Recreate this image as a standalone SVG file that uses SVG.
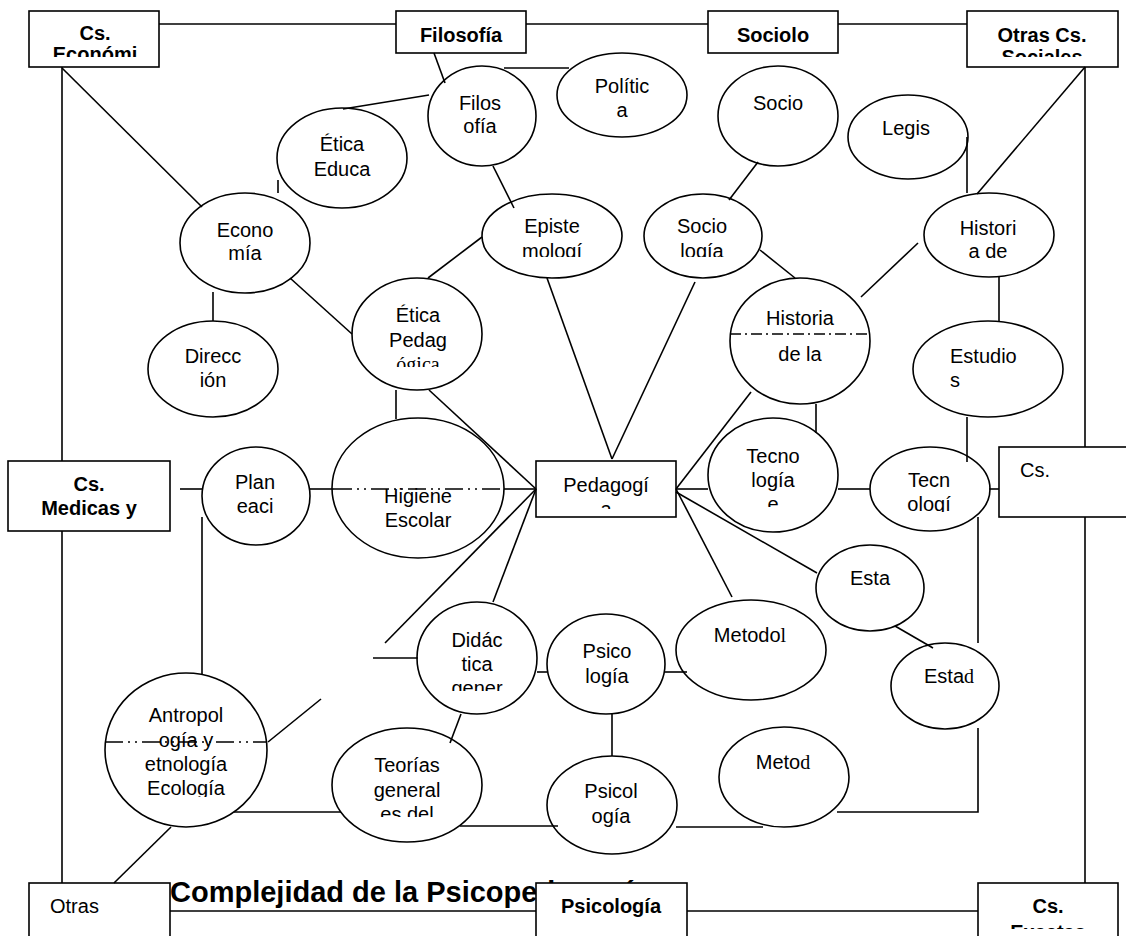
<svg xmlns="http://www.w3.org/2000/svg" width="1126" height="936" viewBox="0 0 1126 936">
<style>
.n ellipse,.n rect{fill:#fff;stroke:#000;stroke-width:1.6}
text{font-family:"Liberation Sans",Arial,sans-serif;font-size:20px;text-anchor:middle;fill:#000}
.b{font-weight:bold}
.l{text-anchor:start}
.s{font-family:"Liberation Serif","Times New Roman",serif}
.ttl{font-size:29px;font-weight:bold;text-anchor:start}
#connectors line,#connectors polyline{stroke:#000;stroke-width:1.6;fill:none}
.dd{stroke-dasharray:18 5 2 5 2 5}
.da{stroke-dasharray:11 4 2 4}
</style>
<defs>
<clipPath id="cpEcon"><rect x="29" y="11" width="130" height="46"/></clipPath>
<clipPath id="cpSoc"><rect x="967" y="11" width="151" height="46"/></clipPath>
<clipPath id="cpExa"><rect x="978" y="883" width="140" height="46"/></clipPath>
<clipPath id="cpPed"><rect x="536" y="461" width="140" height="48"/></clipPath>
<clipPath id="cpEpi"><rect x="482" y="194" width="140" height="63"/></clipPath>
<clipPath id="cpSocL"><rect x="644" y="194" width="120" height="63"/></clipPath>
<clipPath id="cpEtica"><rect x="352" y="278" width="130" height="89"/></clipPath>
<clipPath id="cpTec1"><rect x="708" y="418" width="130" height="89"/></clipPath>
<clipPath id="cpTec2"><rect x="870" y="447" width="120" height="65"/></clipPath>
<clipPath id="cpDid"><rect x="417" y="602" width="120" height="89"/></clipPath>
<clipPath id="cpTeo"><rect x="332" y="728" width="151" height="89"/></clipPath>
<clipPath id="cpAnt"><rect x="105" y="672" width="162" height="125"/></clipPath>
</defs>
<rect width="1126" height="936" fill="#fff"/>

<text class="ttl" x="170" y="902">Complejidad de la Psicopedagogía</text>

<g id="nodes">
<g id="cs-economicas" class="n"><rect x="29" y="11" width="130" height="56"/><text class="b" x="95" y="40">Cs.</text><text class="b" x="95" y="61" clip-path="url(#cpEcon)">Económi</text></g>
<g id="filosofia-box" class="n"><rect x="396" y="11" width="130" height="42"/><text class="b" x="461" y="42">Filosofía</text></g>
<g id="sociologia-box" class="n"><rect x="708" y="11" width="130" height="42"/><text class="b" x="773" y="42">Sociolo</text></g>
<g id="otras-cs-sociales" class="n"><rect x="967" y="11" width="151" height="56"/><text class="b" x="1042" y="42">Otras Cs.</text><text class="b" x="1042" y="64" clip-path="url(#cpSoc)">Sociales</text></g>
<g id="cs-medicas" class="n"><rect x="8" y="461" width="162" height="70"/><text class="b" x="89" y="491">Cs.</text><text class="b" x="89" y="515">Medicas y</text></g>
<g id="cs-right" class="n"><rect x="999" y="447" width="135" height="70"/><text class="l" x="1020" y="477">Cs.</text></g>
<g id="otras-bottom" class="n"><rect x="29" y="883" width="141" height="60"/><text class="l" x="50" y="913">Otras</text></g>
<g id="psicologia-box" class="n"><rect x="536" y="883" width="151" height="60"/><text class="b" x="611" y="913">Psicología</text></g>
<g id="cs-exactas" class="n"><rect x="978" y="883" width="140" height="60"/><text class="b" x="1048" y="913">Cs.</text><text class="b" x="1048" y="939" clip-path="url(#cpExa)">Exactas</text></g>
<g id="pedagogia" class="n"><rect x="536" y="461" width="140" height="56"/><text x="606" y="492">Pedagogí</text><text x="606" y="516" clip-path="url(#cpPed)">a</text></g>

<g id="filosofia-educ" class="n"><ellipse cx="482" cy="116" rx="54" ry="50"/><text x="480" y="110">Filos</text><text x="480" y="133">ofía</text></g>
<g id="politica" class="n"><ellipse cx="622" cy="95" rx="65" ry="42"/><text x="622" y="93">Polític</text><text x="622" y="117">a</text></g>
<g id="etica-educ" class="n"><ellipse cx="342" cy="158" rx="65" ry="50"/><text x="342" y="151">Ética</text><text x="342" y="176">Educa</text></g>
<g id="economia" class="n"><ellipse cx="245" cy="243" rx="65" ry="50"/><text x="245" y="237">Econo</text><text x="245" y="260">mía</text></g>
<g id="epistemologia" class="n"><ellipse cx="552" cy="236" rx="70" ry="42"/><text x="552" y="233">Episte</text><text x="552" y="258" clip-path="url(#cpEpi)">mologí</text></g>
<g id="socio-top" class="n"><ellipse cx="778" cy="116" rx="60" ry="50"/><text x="778" y="110">Socio</text></g>
<g id="sociologia" class="n"><ellipse cx="703" cy="236" rx="59" ry="42"/><text x="702" y="233">Socio</text><text x="702" y="258" clip-path="url(#cpSocL)">logía</text></g>
<g id="legis" class="n"><ellipse cx="908" cy="137" rx="60" ry="42"/><text x="906" y="135">Legis</text></g>
<g id="historia-de" class="n"><ellipse cx="989" cy="235" rx="65" ry="42"/><text x="988" y="235">Histori</text><text x="988" y="258">a de</text></g>
<g id="historia-de-la" class="n"><ellipse cx="800" cy="341" rx="70" ry="63"/><text x="800" y="325">Historia</text><text x="800" y="361">de la</text></g>
<g id="estudios" class="n"><ellipse cx="988" cy="369" rx="75" ry="48"/><text class="l" x="950" y="363">Estudio</text><text class="l" x="950" y="387">s</text></g>
<g id="direccion" class="n"><ellipse cx="213" cy="369" rx="65" ry="48"/><text x="213" y="363">Direcc</text><text x="213" y="387">ión</text></g>
<g id="etica-pedagogica" class="n"><ellipse cx="417" cy="334" rx="65" ry="56"/><text x="418" y="322">Ética</text><text x="418" y="347">Pedag</text><text class="s" x="418" y="371" clip-path="url(#cpEtica)">ógica</text></g>
<g id="planeacion" class="n"><ellipse cx="256" cy="496" rx="54" ry="49"/><text x="255" y="489">Plan</text><text x="255" y="513">eaci</text></g>
<g id="higiene" class="n"><ellipse cx="418" cy="488" rx="86" ry="70"/><text x="418" y="503">Higiene</text><text x="418" y="527">Escolar</text></g>
<g id="tecnologia-e" class="n"><ellipse cx="773" cy="475" rx="65" ry="57"/><text x="773" y="463">Tecno</text><text x="773" y="487">logía</text><text x="773" y="511" clip-path="url(#cpTec1)">e</text></g>
<g id="tecnologia" class="n"><ellipse cx="930" cy="489" rx="60" ry="42"/><text x="929" y="487">Tecn</text><text x="929" y="511" clip-path="url(#cpTec2)">ologí</text></g>
<g id="esta" class="n"><ellipse cx="870" cy="588" rx="54" ry="43"/><text x="870" y="585">Esta</text></g>
<g id="estad" class="n"><ellipse cx="945" cy="686" rx="54" ry="43"/><text x="949" y="683">Esta<tspan class="s">d</tspan></text></g>
<g id="metodol" class="n"><ellipse cx="751" cy="650" rx="75" ry="50"/><text x="750" y="642">Metodo<tspan class="s">l</tspan></text></g>
<g id="metod" class="n"><ellipse cx="784" cy="777" rx="65" ry="50"/><text x="783" y="769">Meto<tspan class="s">d</tspan></text></g>
<g id="didactica" class="n"><ellipse cx="477" cy="658" rx="60" ry="56"/><text x="477" y="647">Didác</text><text x="477" y="671">tica</text><text x="477" y="695" clip-path="url(#cpDid)">gener</text></g>
<g id="psico" class="n"><ellipse cx="606" cy="664" rx="59" ry="50"/><text x="607" y="658">Psico</text><text x="607" y="683">logía</text></g>
<g id="psicol" class="n"><ellipse cx="612" cy="805" rx="65" ry="49"/><text x="611" y="798">Psicol</text><text x="611" y="823">ogía</text></g>
<g id="teorias" class="n"><ellipse cx="407" cy="785" rx="75" ry="57"/><text x="407" y="772">Teorías</text><text x="407" y="797">general</text><text x="407" y="821" clip-path="url(#cpTeo)">es del</text></g>
<g id="antropologia" class="n"><ellipse cx="186" cy="750" rx="81" ry="77"/><text x="186" y="722">Antropol</text><text x="186" y="747">ogía y</text><text x="186" y="771">etnología</text><text x="186" y="795" clip-path="url(#cpAnt)">Ecología</text></g>
</g>

<g id="connectors">
<line x1="159" y1="24" x2="396" y2="24"/>
<line x1="526" y1="24" x2="708" y2="24"/>
<line x1="838" y1="24" x2="967" y2="24"/>
<line x1="62" y1="67" x2="62" y2="461"/>
<line x1="62" y1="531" x2="62" y2="883"/>
<line x1="1085" y1="67" x2="1085" y2="447"/>
<line x1="1085" y1="517" x2="1085" y2="883"/>
<line x1="170" y1="911" x2="536" y2="911"/>
<line x1="687" y1="911" x2="978" y2="911"/>
<line x1="62" y1="68" x2="202" y2="207"/>
<line x1="434" y1="53" x2="445" y2="83"/>
<line x1="429" y1="95" x2="343" y2="109"/>
<line x1="278" y1="180" x2="278" y2="193"/>
<line x1="504" y1="68" x2="569" y2="68"/>
<line x1="493" y1="166" x2="514" y2="208"/>
<line x1="482" y1="237" x2="428" y2="278"/>
<line x1="547" y1="278" x2="612" y2="459"/>
<line x1="758" y1="162" x2="729" y2="200"/>
<line x1="695" y1="282" x2="612" y2="459"/>
<line x1="760" y1="250" x2="795" y2="278"/>
<line x1="967" y1="137" x2="967" y2="193"/>
<line x1="1085" y1="67" x2="977" y2="194"/>
<line x1="918" y1="243" x2="861" y2="297"/>
<line x1="999" y1="277" x2="999" y2="321"/>
<line x1="967" y1="417" x2="967" y2="462"/>
<line x1="290" y1="278" x2="352" y2="334"/>
<line x1="213" y1="292" x2="213" y2="321"/>
<line x1="396" y1="390" x2="396" y2="419"/>
<line x1="429" y1="390" x2="536" y2="489"/>
<line x1="180" y1="489" x2="202" y2="489"/>
<line x1="310" y1="489" x2="334" y2="489"/>
<line class="dd" x1="334" y1="489" x2="504" y2="489"/>
<line x1="504" y1="489" x2="536" y2="489"/>
<line x1="202" y1="517" x2="202" y2="674"/>
<line x1="536" y1="489" x2="385" y2="643"/>
<line x1="536" y1="489" x2="493" y2="602"/>
<line x1="373" y1="658" x2="418" y2="658"/>
<line x1="268" y1="742" x2="321" y2="699"/>
<line class="dd" x1="105" y1="742" x2="267" y2="742"/>
<line x1="171" y1="827" x2="114" y2="883"/>
<line x1="234" y1="812" x2="341" y2="812"/>
<line x1="461" y1="714" x2="450" y2="743"/>
<line x1="537" y1="672" x2="547" y2="672"/>
<line x1="612" y1="714" x2="612" y2="756"/>
<line x1="460" y1="826" x2="558" y2="826"/>
<line x1="676" y1="827" x2="763" y2="827"/>
<line x1="665" y1="672" x2="687" y2="672"/>
<line x1="676" y1="489" x2="732" y2="597"/>
<line x1="676" y1="492" x2="817" y2="573"/>
<line x1="676" y1="489" x2="751" y2="392"/>
<line x1="676" y1="489" x2="708" y2="489"/>
<line class="da" x1="730" y1="334" x2="870" y2="334"/>
<line x1="816" y1="404" x2="816" y2="433"/>
<line x1="838" y1="489" x2="870" y2="489"/>
<line x1="989" y1="489" x2="999" y2="489"/>
<line x1="895" y1="626" x2="933" y2="648"/>
<line x1="978" y1="517" x2="978" y2="643"/>
<polyline points="978,728 978,812 837,812"/>
</g>
</svg>
